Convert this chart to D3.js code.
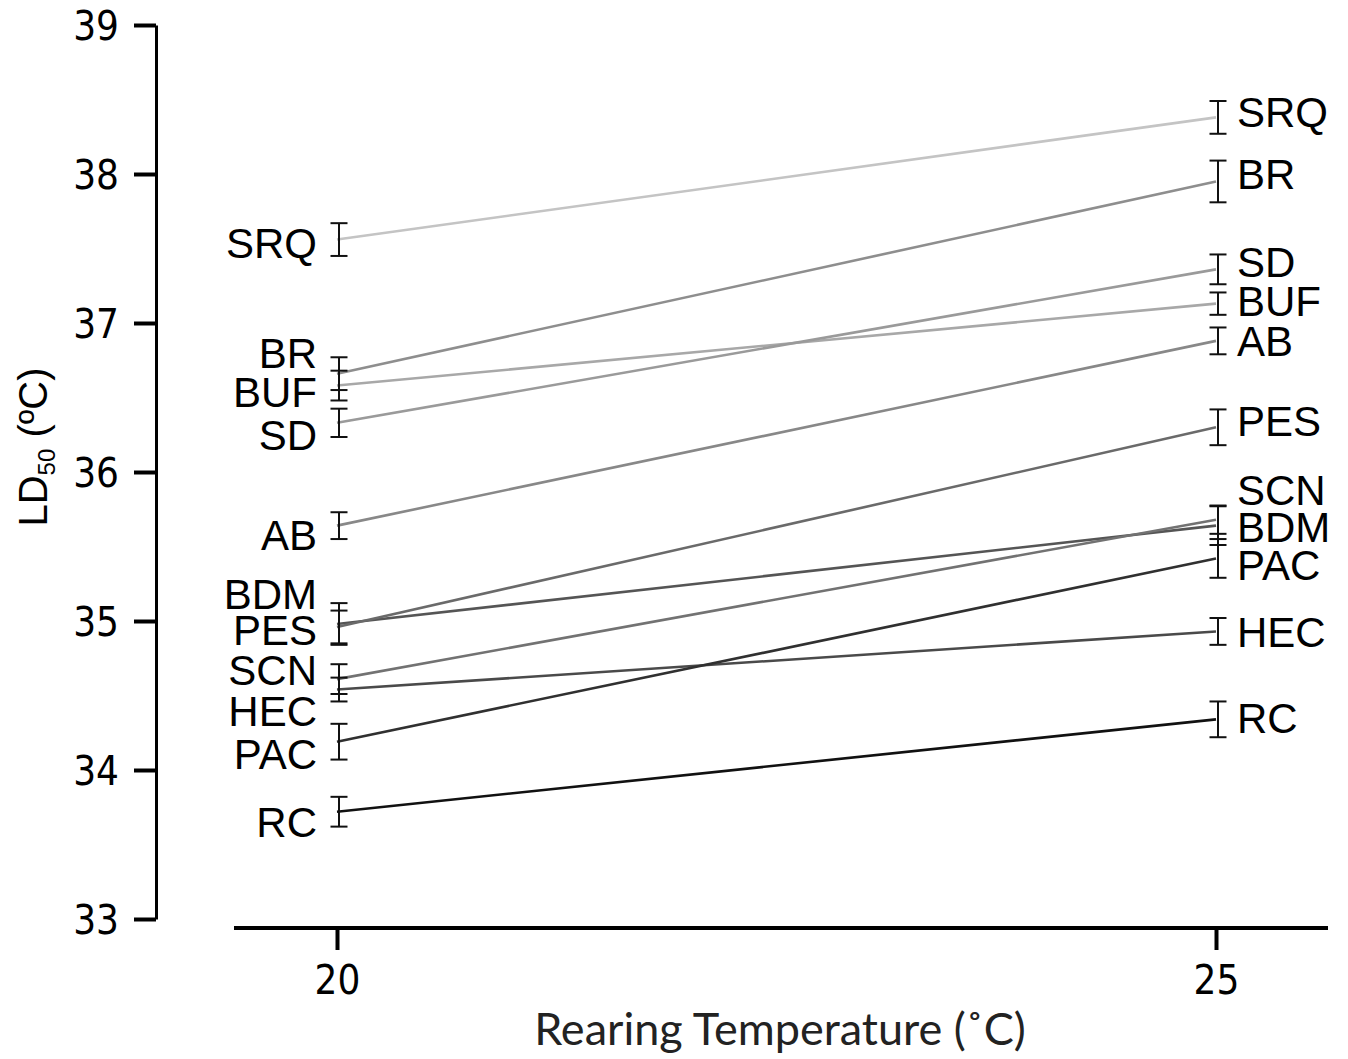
<!DOCTYPE html>
<html>
<head>
<meta charset="utf-8">
<script src="https://cdn.jsdelivr.net/npm/d3@7"></script>
<style>
  body { margin: 0; background: #fff; }
  .pop { font-family: "Liberation Sans", Arial, sans-serif; font-size: 42px; fill: #000; }
  .tickLabel { font-family: "DejaVu Sans", sans-serif; font-stretch: condensed; font-size: 40px; }
  .axisTitle { font-family: "Lato", "Open Sans", sans-serif; font-size: 45px; fill: #222; }
</style>
</head>
<body>
<div class="chart_container"></div>
<script>
var width = 1348
var height = 1059

// populations, LD50 at 20 and 25 C, with error half-widths
var pops = ["SRQ", "BR", "BUF", "SD", "AB", "BDM", "PES", "SCN", "HEC", "PAC", "RC"]
var ld20 = [37.56, 36.66, 36.58, 36.33, 35.64, 34.98, 34.96, 34.61, 34.54, 34.19, 33.72]
var ld25 = [38.38, 37.95, 37.13, 37.36, 36.88, 35.64, 36.30, 35.68, 34.93, 35.42, 34.34]
var err20 = [0.11, 0.11, 0.10, 0.095, 0.09, 0.14, 0.11, 0.10, 0.08, 0.12, 0.10]
var err25 = [0.11, 0.14, 0.075, 0.10, 0.09, 0.13, 0.12, 0.095, 0.09, 0.13, 0.12]
var greys = ["#c4c4c4", "#8e8e8e", "#a8a8a8", "#9a9a9a", "#888888", "#555555", "#6a6a6a", "#727272", "#4a4a4a", "#303030", "#111111"]
// where each name label sits (in LD50 units) so labels do not collide
var labelAt20 = [37.54, 36.80, 36.54, 36.25, 35.58, 35.18, 34.94, 34.67, 34.40, 34.11, 33.65]
var labelAt25 = [38.42, 38.00, 37.15, 37.41, 36.88, 35.63, 36.34, 35.88, 34.93, 35.38, 34.35]

var temps = [20, 25]
var yTicks = [33, 34, 35, 36, 37, 38, 39]

var svg = d3.select(".chart_container").append("svg")
            .attr("width", width)
            .attr("height", height);

var scaleTemp = d3.scaleLinear()
                  .domain([20, 25])
                  .range([337, 1216]);

var scaleLD = d3.scaleLinear()
                .domain([33, 39])
                .range([919, 25]);

var data = pops.map(function (p, i) {
  return { pop: p, a: ld20[i], b: ld25[i], ea: err20[i], eb: err25[i],
           la: labelAt20[i], lb: labelAt25[i], color: greys[i] };
});

// y axis
var axisLeft = d3.axisLeft(scaleLD)
                 .tickValues(yTicks)
                 .tickFormat(d3.format("d"))
                 .tickSizeInner(22)
                 .tickSizeOuter(0)
                 .tickPadding(15);

var gy = svg.append("g")
  .attr("transform", "translate(156,0)")
  .call(axisLeft);
gy.select(".domain").attr("stroke-width", 3);
gy.selectAll(".tick line").attr("stroke-width", 4);
gy.selectAll(".tick text")
  .attr("class", "tickLabel")
  .attr("fill", "#000")
  .attr("dy", "0.36em");

// x axis
var axisBottom = d3.axisBottom(scaleTemp)
                   .tickValues(temps)
                   .tickFormat(d3.format("d"))
                   .tickSizeInner(22)
                   .tickSizeOuter(0)
                   .tickPadding(16);

var gx = svg.append("g")
  .attr("transform", "translate(0,928)")
  .call(axisBottom);
gx.select(".domain").attr("d", "M" + (scaleTemp(20) - 103) + ",0H" + (scaleTemp(25) + 112))
  .attr("stroke-width", 4);
gx.selectAll(".tick line").attr("stroke-width", 4).attr("y1", 2);
gx.selectAll(".tick text")
  .attr("class", "tickLabel")
  .attr("fill", "#000");

svg.append("text")
  .attr("class", "axisTitle")
  .attr("x", 780)
  .attr("y", 1045)
  .style("text-anchor", "middle")
  .text("Rearing Temperature (\u02DAC)");

var yTitle = svg.append("text")
  .attr("class", "pop")
  .attr("transform", "translate(47,447) rotate(-90)")
  .style("text-anchor", "middle")
  .style("font-size", "40px");
yTitle.append("tspan").text("LD");
yTitle.append("tspan").attr("dy", 8).style("font-size", "24px").text("50");
yTitle.append("tspan").attr("dy", -8).text(" (\u00BAC)");

// lines
svg.selectAll(".popLine")
  .data(data)
  .enter()
  .append("line")
  .attr("class", "popLine")
  .attr("x1", scaleTemp(20))
  .attr("x2", scaleTemp(25))
  .attr("y1", function (d) { return scaleLD(d.a); })
  .attr("y2", function (d) { return scaleLD(d.b); })
  .attr("stroke", function (d) { return d.color; })
  .attr("stroke-width", 2.6);

// error bars
function errorBars(cls, t, val, e) {
  var cap = 8.5;
  var g = svg.selectAll("." + cls)
    .data(data)
    .enter()
    .append("g")
    .attr("class", cls)
    .attr("stroke", "#111")
    .attr("stroke-width", 2);
  var x = scaleTemp(t) + 2;
  g.append("line")
    .attr("x1", x).attr("x2", x)
    .attr("y1", function (d) { return scaleLD(d[val] + d[e]); })
    .attr("y2", function (d) { return scaleLD(d[val] - d[e]); });
  g.append("line")
    .attr("x1", x - cap).attr("x2", x + cap)
    .attr("y1", function (d) { return scaleLD(d[val] + d[e]); })
    .attr("y2", function (d) { return scaleLD(d[val] + d[e]); });
  g.append("line")
    .attr("x1", x - cap).attr("x2", x + cap)
    .attr("y1", function (d) { return scaleLD(d[val] - d[e]); })
    .attr("y2", function (d) { return scaleLD(d[val] - d[e]); });
}
errorBars("err20", 20, "a", "ea");
errorBars("err25", 25, "b", "eb");

// labels
svg.selectAll(".lab20")
  .data(data)
  .enter()
  .append("text")
  .attr("class", "pop")
  .attr("x", scaleTemp(20) - 20)
  .attr("y", function (d) { return scaleLD(d.la); })
  .attr("dy", "0.36em")
  .style("text-anchor", "end")
  .text(function (d) { return d.pop; });

svg.selectAll(".lab25")
  .data(data)
  .enter()
  .append("text")
  .attr("class", "pop")
  .attr("x", scaleTemp(25) + 21)
  .attr("y", function (d) { return scaleLD(d.lb); })
  .attr("dy", "0.36em")
  .style("text-anchor", "start")
  .text(function (d) { return d.pop; });
</script>
</body>
</html>
